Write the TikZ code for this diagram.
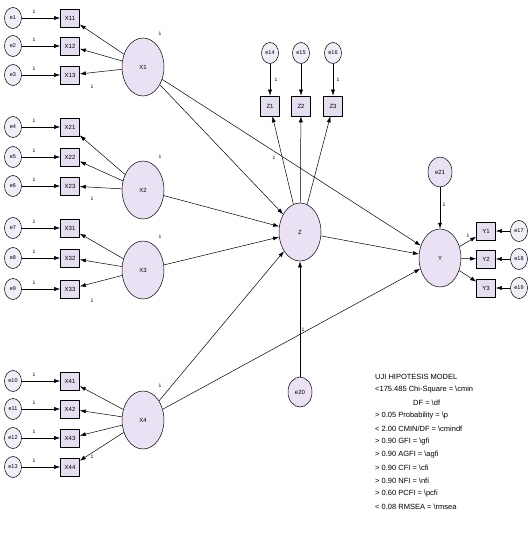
\documentclass[tikz,border=0pt]{standalone}
\usepackage{fontspec}
\setmainfont{Liberation Sans}
\usetikzlibrary{shapes.geometric,arrows.meta}
\definecolor{latfill}{HTML}{EAE2F4}
\definecolor{obsfill}{HTML}{E4DEF0}
\definecolor{errfill}{HTML}{F2EEF8}
\tikzset{
  lat/.style={ellipse, draw, line width=0.5pt, fill=latfill, minimum width=42pt, minimum height=58pt, inner sep=0pt, font=\fontsize{6}{7}\selectfont},
  obs/.style={rectangle, draw, line width=0.6pt, fill=obsfill, minimum width=19pt, minimum height=18pt, inner sep=0pt, font=\fontsize{6}{7}\selectfont},
  err/.style={ellipse, draw, line width=0.5pt, fill=errfill, minimum width=17pt, minimum height=21pt, inner sep=0pt, font=\fontsize{5.5}{6}\selectfont},
  dist/.style={ellipse, draw, line width=0.5pt, fill=latfill, minimum width=24pt, minimum height=30pt, inner sep=0pt, font=\fontsize{6}{7}\selectfont},
  arr/.style={-{Latex[length=6pt,width=4pt]}, line width=0.5pt},
  one/.style={font=\fontsize{5}{6}\selectfont, inner sep=1pt},
  leg/.style={font=\fontsize{7.5}{9}\selectfont, anchor=west, inner sep=0pt}
}
\begin{document}
\begin{tikzpicture}[x=1pt,y=-1pt]
\useasboundingbox (0,0) rectangle (530,554);
\fill[white] (0,0) rectangle (530,554);
% ---- X1
\node[lat] (X1) at (143,67) {X1};
\node[obs] (x11) at (70,18) {X11};
\node[obs] (x12) at (70,46) {X12};
\node[obs] (x13) at (70,75) {X13};
\node[err] (e1) at (13,18) {e1};
\node[err] (e2) at (13,46) {e2};
\node[err] (e3) at (13,75) {e3};
% ---- X2
\node[lat] (X2) at (143,190) {X2};
\node[obs] (x21) at (70,127) {X21};
\node[obs] (x22) at (70,157) {X22};
\node[obs] (x23) at (70,186) {X23};
\node[err] (e4) at (13,127) {e4};
\node[err] (e5) at (13,157) {e5};
\node[err] (e6) at (13,186) {e6};
% ---- X3
\node[lat] (X3) at (143,270) {X3};
\node[obs] (x31) at (70,228) {X31};
\node[obs] (x32) at (70,258) {X32};
\node[obs] (x33) at (70,289) {X33};
\node[err] (e7) at (13,228) {e7};
\node[err] (e8) at (13,258) {e8};
\node[err] (e9) at (13,289) {e9};
% ---- X4
\node[lat] (X4) at (143,420) {X4};
\node[obs] (x41) at (70,381) {X41};
\node[obs] (x42) at (70,409) {X42};
\node[obs] (x43) at (70,438) {X43};
\node[obs] (x44) at (70,467) {X44};
\node[err] (e10) at (13,381) {e10};
\node[err] (e11) at (13,409) {e11};
\node[err] (e12) at (13,438) {e12};
\node[err] (e13) at (13,467) {e13};
% ---- Z
\node[lat] (Z) at (300,232) {Z};
\node[obs,minimum height=20pt] (z1) at (270,106) {Z1};
\node[obs,minimum height=20pt] (z2) at (301,106) {Z2};
\node[obs,minimum height=20pt] (z3) at (333,106) {Z3};
\node[err] (e14) at (270,53) {e14};
\node[err] (e15) at (301,53) {e15};
\node[err] (e16) at (333,53) {e16};
\node[dist] (e20) at (300,392) {e20};
% ---- Y
\node[lat] (Y) at (440,258) {Y};
\node[obs] (y1) at (486,231) {Y1};
\node[obs] (y2) at (486,259) {Y2};
\node[obs] (y3) at (486,288) {Y3};
\node[err] (e17) at (519,231) {e17};
\node[err] (e18) at (519,259) {e18};
\node[err] (e19) at (519,288) {e19};
\node[dist] (e21) at (440,172) {e21};
% ---- measurement arrows
\foreach \l/\list in {X1/{x11,x12,x13},X2/{x21,x22,x23},X3/{x31,x32,x33},X4/{x41,x42,x43,x44},Z/{z1,z2,z3},Y/{y1,y2,y3}}{
  \foreach \o in \list { \draw[arr] (\l) -- (\o); }
}
\foreach \e/\o in {e1/x11,e2/x12,e3/x13,e4/x21,e5/x22,e6/x23,e7/x31,e8/x32,e9/x33,e10/x41,e11/x42,e12/x43,e13/x44,e14/z1,e15/z2,e16/z3,e17/y1,e18/y2,e19/y3}{
  \draw[arr] (\e) -- (\o);
}
% ---- structural arrows
\draw[arr] (X1) -- (Z);
\draw[arr] (X1) -- (Y);
\draw[arr] (X2) -- (Z);
\draw[arr] (X3) -- (Z);
\draw[arr] (X4) -- (Z);
\draw[arr] (X4) -- (Y);
\draw[arr] (Z) -- (Y);
\draw[arr] (e20) -- (Z);
\draw[arr] (e21) -- (Y);
% ---- fixed-weight labels
\foreach \p in {(34,12),(34,40),(34,69),(34,121),(34,151),(34,180),(34,222),(34,252),(34,283),(34,375),(34,403),(34,432),(34,461)}{
  \node[one] at \p {1};
}
\foreach \p in {(160,34),(160,157),(160,237),(160,386),(92,87),(92,199),(92,301),(92,457),(276,80),(338,80),(303,330),(444,205),(468,236),(274,158)}{
  \node[one] at \p {1};
}
% ---- legend
\node[leg] (l1) at (375,377) {UJI HIPOTESIS MODEL};
\node[leg] (l2) at (375,390) {<175.485 Chi-Square = \textbackslash cmin};
\node[leg] (l3) at (413,403) {DF = \textbackslash df};
\node[leg] (l4) at (375,416) {> 0.05 Probability = \textbackslash p};
\node[leg] (l5) at (375,429) {< 2.00 CMIN/DF = \textbackslash cmindf};
\node[leg] (l6) at (375,442) {> 0.90 GFI = \textbackslash gfi};
\node[leg] (l7) at (375,455) {> 0.90 AGFI = \textbackslash agfi};
\node[leg] (l8) at (375,468) {> 0.90 CFI = \textbackslash cfi};
\node[leg] (l9) at (375,481) {> 0.90 NFI = \textbackslash nfi};
\node[leg] (l10) at (375,494) {> 0.60 PCFI = \textbackslash pcfi};
\node[leg] (l11) at (375,507) {< 0.08 RMSEA = \textbackslash rmsea};
\end{tikzpicture}
\end{document}
